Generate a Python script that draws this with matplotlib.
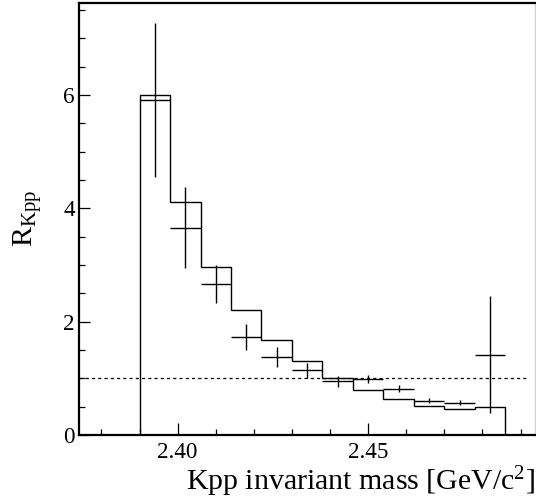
import numpy as np
import matplotlib
matplotlib.use("Agg")
import matplotlib.pyplot as plt
from matplotlib.ticker import MultipleLocator

plt.rcParams['font.family'] = ['Liberation Serif', 'DejaVu Serif']
plt.rcParams['mathtext.fontset'] = 'custom'
plt.rcParams['mathtext.rm'] = 'Liberation Serif'
plt.rcParams['mathtext.it'] = 'Liberation Serif:italic'

# bin edges of the Kpp invariant mass histogram [GeV/c^2]
bin_edges = [2.390, 2.398, 2.406, 2.414, 2.422, 2.430, 2.438,
             2.446, 2.454, 2.462, 2.470, 2.478, 2.486]
# step histogram (expectation)
hist_vals = [6.00, 4.11, 2.96, 2.21, 1.68, 1.30, 1.01, 0.79, 0.635, 0.51, 0.46, 0.49]
# data points with errors
data_vals = [5.91, 3.66, 2.66, 1.73, 1.38, 1.14, 0.95, 0.99, 0.82, 0.605, 0.57, 1.42]
data_errs = [1.35, 0.715, 0.34, 0.225, 0.18, 0.13, 0.095, 0.07, 0.06, 0.045, 0.04, 1.04]

x_range = (2.3741, 2.4938)
y_range = (0.0, 7.63)
ref_level = 1.0
ref_end = 2.492

edges = np.array(bin_edges)
centers = 0.5 * (edges[:-1] + edges[1:])
half_w = 0.5 * np.diff(edges)

fig = plt.figure(figsize=(5.36, 5.04), dpi=100)
ax = fig.add_axes([79 / 536, 1 - 435 / 504, 456 / 536, 432.5 / 504])

ax.stairs(hist_vals, edges, baseline=0, color='black', linewidth=1.0)
ax.errorbar(centers, data_vals, yerr=data_errs, xerr=half_w, fmt='none',
            ecolor='black', elinewidth=1.0, capsize=0)
ax.hlines(ref_level, x_range[0], ref_end, colors='black', linewidth=0.9,
          linestyles=(0, (2.5, 2.5)))

ax.set_xlim(*x_range)
ax.set_ylim(*y_range)

ax.xaxis.set_major_locator(MultipleLocator(0.05))
ax.xaxis.set_minor_locator(MultipleLocator(0.01))
ax.yaxis.set_major_locator(MultipleLocator(2))
ax.yaxis.set_minor_locator(MultipleLocator(0.5))
ax.xaxis.set_major_formatter(plt.FuncFormatter(lambda v, p: f"{v:.2f}"))
ax.yaxis.set_major_formatter(plt.FuncFormatter(lambda v, p: f"{v:.0f}"))

ax.tick_params(axis='both', which='both', direction='in', top=False, right=False,
               width=0.9, labelsize=16.7)
ax.tick_params(axis='x', which='major', length=8.6, pad=5)
ax.tick_params(axis='x', which='minor', length=4.3)
ax.tick_params(axis='y', which='major', length=7.8, pad=3)
ax.tick_params(axis='y', which='minor', length=4.3)

for side in ['left', 'bottom', 'top']:
    ax.spines[side].set_linewidth(1.6)
ax.spines['right'].set_linewidth(1.0)
ax.spines['right'].set_color('#d0d0d0')

ax.set_xlabel(r'Kpp invariant mass [GeV/c$^{2}$]', fontsize=21.5, ha='right', va='baseline')
ax.xaxis.set_label_coords(1.0, -55 / 432.5)
ax.set_ylabel(r'R$_{\mathrm{Kpp}}$', fontsize=21.5, va='baseline')
ax.yaxis.set_label_coords(-46 / 456, 0.5)

fig.savefig('out.png', dpi=100)
